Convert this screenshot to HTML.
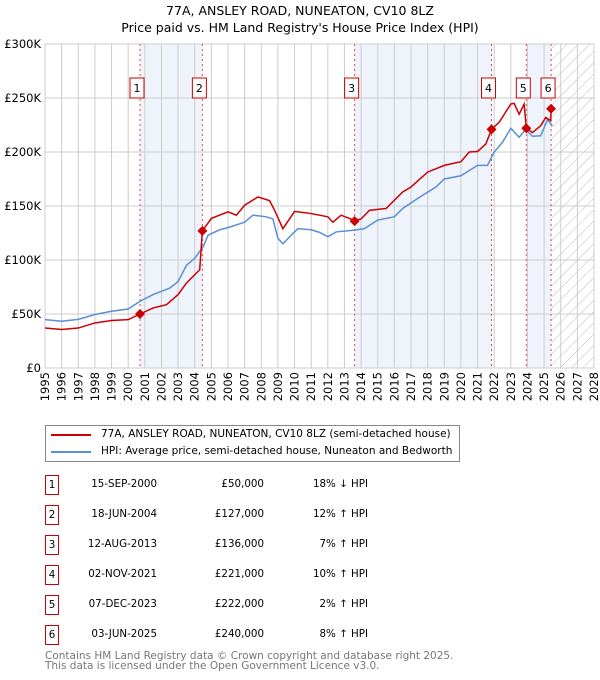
<!DOCTYPE html>
<html><head><meta charset="utf-8"><style>
body{margin:0;width:600px;height:680px;background:#fff;font-family:"DejaVu Sans","Liberation Sans",sans-serif;color:#000;overflow:hidden}
.row{position:absolute;font-size:10.3px}
.box{position:absolute;width:14px;height:20px;border:1px solid #c00;box-sizing:border-box;text-align:center;line-height:18px;font-size:10.3px}
</style></head><body>
<svg id="chart" width="600" height="420" style="position:absolute;left:0;top:0" font-family="DejaVu Sans, Liberation Sans, sans-serif">
<defs><pattern id="hatch" width="8" height="8" patternUnits="userSpaceOnUse" patternTransform="rotate(45)"><line x1="0" y1="0" x2="0" y2="8" stroke="#bbb" stroke-width="1"/></pattern></defs>
<text x="300" y="15" text-anchor="middle" font-size="12.5">77A, ANSLEY ROAD, NUNEATON, CV10 8LZ</text>
<text x="300" y="32" text-anchor="middle" font-size="12.5">Price paid vs. HM Land Registry's House Price Index (HPI)</text>
<g id="g"></g>
</svg>
<div style="position:absolute;left:45px;top:425px;width:415px;height:37px;border:1px solid #888;box-sizing:border-box;font-size:10.5px">
<div style="position:absolute;left:5px;top:8px;width:40px;height:2px;background:#c00"></div>
<div style="position:absolute;left:55px;top:2px">77A, ANSLEY ROAD, NUNEATON, CV10 8LZ (semi-detached house)</div>
<div style="position:absolute;left:5px;top:25px;width:40px;height:2px;background:#5b8fd4"></div>
<div style="position:absolute;left:55px;top:19px">HPI: Average price, semi-detached house, Nuneaton and Bedworth</div>
</div>
<div id="table"></div>
<div style="position:absolute;left:45px;top:651px;font-size:10.5px;color:#777;line-height:10px">Contains HM Land Registry data © Crown copyright and database right 2025.<br>This data is licensed under the Open Government Licence v3.0.</div>
<script>
const hpiX=[1995,1996,1997,1998,1999,2000,2000.7,2001.5,2002.5,2003,2003.5,2004,2004.5,2004.8,2005.5,2006,2007,2007.5,2008.3,2008.7,2009,2009.3,2009.8,2010.2,2011,2011.5,2012,2012.5,2013.6,2014.2,2015,2016,2016.5,2017.5,2018.5,2019,2020,2021,2021.6,2022,2022.5,2023,2023.5,2023.9,2024.3,2024.8,2025.2,2025.5];
const hpiY=[44.8,43.3,45,49.5,52.5,54.6,61.7,68,74,80,95,101.6,112,123,128,130,135,141.5,140,138,120,115,123,129,128,125.6,121.6,126,127.7,129,137,140,147.7,158,167.6,175,178,187.6,187.6,200,209,222,213.7,221,214.6,215,230,224.4];
const priceX=[1995,1996,1997,1998,1999,2000,2000.71,2001.5,2002.3,2003,2003.5,2004.3,2004.46,2005,2006,2006.5,2007,2007.8,2008.5,2008.8,2009.3,2010,2011,2012,2012.3,2012.8,2013.61,2014,2014.5,2015.5,2016.5,2017,2018,2019,2020,2020.5,2021,2021.5,2021.84,2022.3,2023,2023.2,2023.5,2023.8,2023.93,2024.3,2024.8,2025.1,2025.4,2025.42];
const priceY=[37,35.6,37,41.7,44,44.8,50,55.6,58.6,68,78.6,91,127,138.5,144.6,141.5,150.7,158.4,155,146,129,145,143,140,135,141.5,136.6,138,146,147.7,163,167.6,181.4,187.6,191,200,200.5,207.5,221,227.5,244.4,245,235,244.4,222,218,224.4,232,229,240];
const saleX=[2000.71,2004.46,2013.61,2021.84,2023.93,2025.42];
const saleY=[50,127,136,221,222,240];
const saleDates=["15-SEP-2000","18-JUN-2004","12-AUG-2013","02-NOV-2021","07-DEC-2023","03-JUN-2025"];
const salePrices=["£50,000","£127,000","£136,000","£221,000","£222,000","£240,000"];
const saleHpi=["18% ↓ HPI","12% ↑ HPI","7% ↑ HPI","10% ↑ HPI","2% ↑ HPI","8% ↑ HPI"];
const yTicks=[0,50,100,150,200,250,300];
const yLabels=["£0","£50K","£100K","£150K","£200K","£250K","£300K"];
const L=45,R=594,T=44,B=368,X0=1995,X1=2028;
const sx=v=>L+(v-X0)*(R-L)/(X1-X0), sy=v=>B-v*(B-T)/300;
const NS="http://www.w3.org/2000/svg",g=document.getElementById('g');
function el(t,a,p){const e=document.createElementNS(NS,t);for(const k in a)e.setAttribute(k,a[k]);(p||g).appendChild(e);return e;}
[[0,1],[2,3],[4,5]].forEach(([a,b])=>{const r=el('rect',{x:sx(saleX[a]),y:T,width:sx(saleX[b])-sx(saleX[a]),height:B-T,fill:'#eef3fc'});

});
const h=el('rect',{x:sx(saleX[5]),y:T,width:R-sx(saleX[5]),height:B-T,fill:'url(#hatch)'});


for(let y=X0;y<=X1;y++){const l=el('line',{x1:sx(y),x2:sx(y),y1:T,y2:B,stroke:'#ccc'});


const t=el('text',{x:0,y:0,transform:`translate(${sx(y)+4},372) rotate(-90)`,'text-anchor':'end','font-size':11.5});t.textContent=y;

}
yTicks.forEach((v,i)=>{const l=el('line',{x1:L,x2:R,y1:sy(v),y2:sy(v),stroke:'#ccc'});


const t=el('text',{x:41,y:sy(v)+4,'text-anchor':'end','font-size':11.5});t.textContent=yLabels[i];

});
el('rect',{x:L,y:T,width:R-L,height:B-T,fill:'none',stroke:'#ccc'});
saleX.forEach((x,i)=>{const l=el('line',{x1:sx(x),x2:sx(x),y1:T,y2:B,stroke:'#e44','stroke-dasharray':'2,3'});

});
function line(xs,ys,c,n){const p=el('polyline',{points:xs.map((x,i)=>sx(x)+','+sy(ys[i])).join(' '),fill:'none',stroke:c,'stroke-width':1.5});

}
line(hpiX,hpiY,'#5b8fd4','hpi-line');
line(priceX,priceY,'#c00','price-line');
saleX.forEach((x,i)=>{const cx=sx(x),cy=sy(saleY[i]);
const d=el('polygon',{points:`${cx},${cy-5} ${cx+5},${cy} ${cx},${cy+5} ${cx-5},${cy}`,fill:'#c00'});


const b=el('rect',{x:cx-10,y:78,width:14,height:20,fill:'#fff',stroke:'#c00'});


const t=el('text',{x:cx-3,y:92,'text-anchor':'middle','font-size':11});t.textContent=i+1;

});
const tb=document.getElementById('table');
saleDates.forEach((d,i)=>{const top=475+i*30;
const r=document.createElement('div');r.style.cssText=`position:absolute;left:0;top:${top}px;width:600px;height:22px`;


r.innerHTML=`<div class="box" style="left:45px;top:0">${i+1}</div><div class="row" style="right:443px;top:3px">${d}</div><div class="row" style="right:336px;top:3px">${salePrices[i]}</div><div class="row" style="right:232px;top:3px">${saleHpi[i]}</div>`;
tb.appendChild(r);});
</script>
</body></html>
